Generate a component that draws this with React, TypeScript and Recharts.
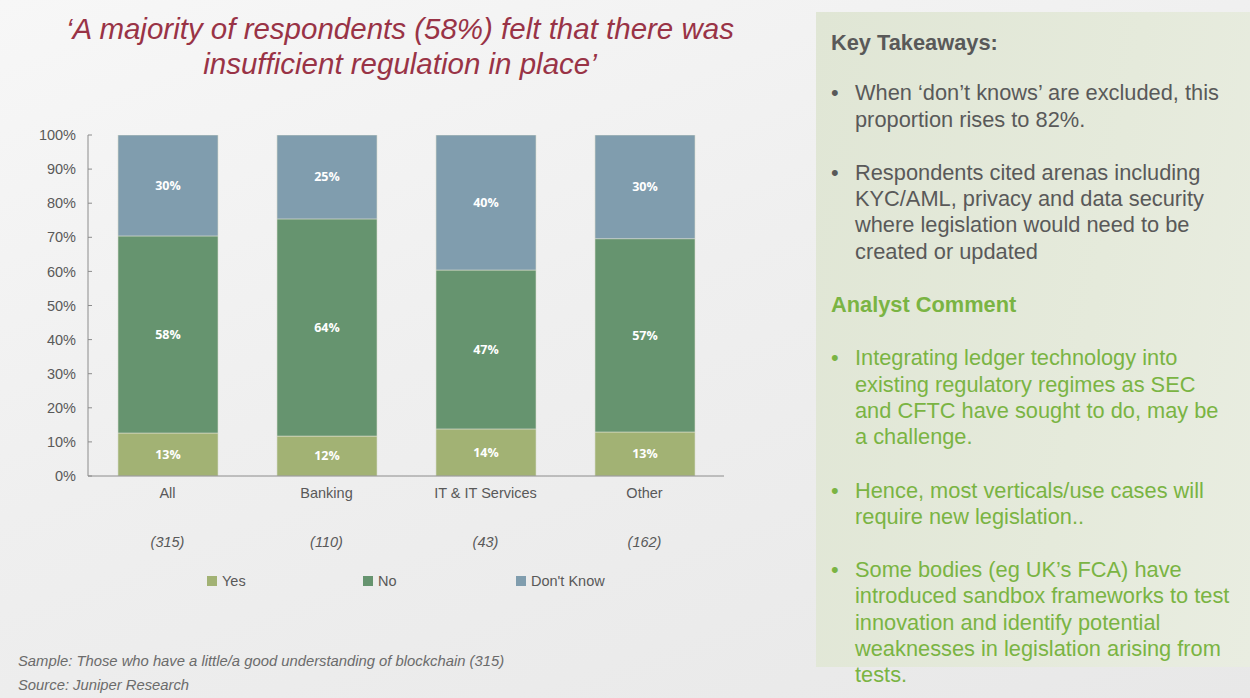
import React from 'react';
import { BarChart, Bar, XAxis, YAxis, Legend, LabelList } from 'recharts';

const categories = ['All', 'Banking', 'IT & IT Services', 'Other'];
const sampleSizes = ['(315)', '(110)', '(43)', '(162)'];
const yesValues = [12.6, 11.7, 13.8, 12.9];
const noValues = [57.8, 63.7, 46.6, 56.7];
const dontKnowValues = [29.6, 24.6, 39.6, 30.4];
const yesLabels = ['13%', '12%', '14%', '13%'];
const noLabels = ['58%', '64%', '47%', '57%'];
const dontKnowLabels = ['30%', '25%', '40%', '30%'];
const yTicks = [0, 10, 20, 30, 40, 50, 60, 70, 80, 90, 100];

const seriesNames = ['Yes', 'No', "Don't Know"];
const seriesColors = ['#a2b274', '#66946f', '#809dae'];

const data = categories.map((c, i) => ({
  category: c,
  n: sampleSizes[i],
  yes: yesValues[i],
  no: noValues[i],
  dk: dontKnowValues[i],
  yesL: yesLabels[i],
  noL: noLabels[i],
  dkL: dontKnowLabels[i],
}));

const takeaways = [
  'When \u2018don\u2019t knows\u2019 are excluded, this proportion rises to 82%.',
  'Respondents cited arenas including KYC/AML, privacy and data security where legislation would need to be created or updated',
];
const comments = [
  'Integrating ledger technology into existing regulatory regimes as SEC and CFTC have sought to do, may be a challenge.',
  'Hence, most verticals/use cases will require new legislation..',
  'Some bodies (eg UK\u2019s FCA) have introduced sandbox frameworks to test innovation and identify potential weaknesses in legislation arising from tests.',
];

const AX = '#595959';
const FONT = "'Liberation Sans', Arial, sans-serif";

const LegendContent = (props: any) => {
  const payload = [...(props.payload || [])].sort(
    (a: any, b: any) => seriesNames.indexOf(a.value) - seriesNames.indexOf(b.value)
  );
  const widths = [156, 153, 120];
  return (
    <div style={{ display: 'flex', paddingLeft: 207, height: 30, alignItems: 'center', fontFamily: FONT, fontSize: 14.5, color: AX }}>
      {payload.map((p: any, i: number) => (
        <div key={i} style={{ width: widths[i], display: 'flex', alignItems: 'center' }}>
          <span style={{ display: 'inline-block', width: 10, height: 10, background: p.color, marginRight: 5 }} />
          <span>{p.value}</span>
        </div>
      ))}
    </div>
  );
};

const Bullet = ({ text, color }: { text: string; color: string }) => (
  <div style={{ display: 'flex', color, marginBottom: 27 }}>
    <span style={{ width: 24, flex: '0 0 24px' }}>{'\u2022'}</span>
    <span style={{ flex: 1 }}>{text}</span>
  </div>
);

export default function App() {
  return (
    <div
      style={{
        position: 'absolute',
        left: 0,
        top: 0,
        width: 1250,
        height: 698,
        overflow: 'hidden',
        background: 'linear-gradient(160deg, #f7f7f7 0%, #efefef 45%, #e8e8e8 100%)',
        fontFamily: FONT,
      }}
    >
      <div
        style={{
          position: 'absolute',
          left: 20,
          width: 760,
          top: 11,
          textAlign: 'center',
          fontFamily: FONT,
          fontStyle: 'italic',
          fontSize: 29.5,
          lineHeight: '35px',
          color: '#993346',
        }}
      >
        {'\u2018A majority of respondents (58%) felt that there was'}
        <br />
        {'insufficient regulation in place\u2019'}
      </div>

      <div style={{ position: 'absolute', left: 0, top: 0 }}>
        <BarChart
          width={760}
          height={596}
          data={data}
          margin={{ top: 135, right: 36, bottom: 0, left: 0 }}
          barSize={100}
        >
          <YAxis
            type="number"
            domain={[0, 100]}
            ticks={yTicks}
            width={88}
            tickFormatter={(v: number) => `${v}%`}
            axisLine={{ stroke: '#8c8c8c' }}
            tickLine={{ stroke: '#8c8c8c' }}
            tickSize={-4}
            tickMargin={16}
            tick={{ fill: AX, fontSize: 14.5, fontFamily: FONT }}
            allowDataOverflow
          />
          <XAxis
            xAxisId={0}
            dataKey="category"
            height={40}
            axisLine={{ stroke: '#8c8c8c' }}
            tickLine={false}
            tickSize={0}
            tickMargin={12}
            tick={{ fill: AX, fontSize: 14.5, fontFamily: FONT }}
          />
          <XAxis
            xAxisId={1}
            dataKey="n"
            height={50}
            axisLine={false}
            tickLine={false}
            tickSize={0}
            tickMargin={21}
            tick={{ fill: AX, fontSize: 14.5, fontFamily: FONT, fontStyle: 'italic' }}
          />
          <Legend verticalAlign="bottom" content={<LegendContent />} wrapperStyle={{ left: 0, width: 760 }} />
          <Bar dataKey="yes" name={seriesNames[0]} stackId="a" fill={seriesColors[0]} stroke="#d8dccf" strokeWidth={0.6} isAnimationActive={false}>
            <LabelList dataKey="yesL" position="center" fill="#ffffff" fontSize={12.5} fontWeight="bold" fontFamily="'Open Sans', sans-serif" />
          </Bar>
          <Bar dataKey="no" name={seriesNames[1]} stackId="a" fill={seriesColors[1]} stroke="#d8dccf" strokeWidth={0.6} isAnimationActive={false}>
            <LabelList dataKey="noL" position="center" fill="#ffffff" fontSize={12.5} fontWeight="bold" fontFamily="'Open Sans', sans-serif" />
          </Bar>
          <Bar dataKey="dk" name={seriesNames[2]} stackId="a" fill={seriesColors[2]} stroke="#d8dccf" strokeWidth={0.6} isAnimationActive={false}>
            <LabelList dataKey="dkL" position="center" fill="#ffffff" fontSize={12.5} fontWeight="bold" fontFamily="'Open Sans', sans-serif" />
          </Bar>
        </BarChart>
      </div>

      <div
        style={{
          position: 'absolute',
          left: 18,
          top: 649,
          fontStyle: 'italic',
          fontSize: 14.8,
          lineHeight: '24px',
          color: '#6b6b6b',
        }}
      >
        <div>Sample: Those who have a little/a good understanding of blockchain (315)</div>
        <div>Source: Juniper Research</div>
      </div>

      <div
        style={{
          position: 'absolute',
          left: 816,
          top: 12,
          width: 434,
          height: 655,
          background: 'linear-gradient(100deg, #e0e6d5 0%, #e5eadb 60%, #e9ede1 100%)',
        }}
      />
      <div
        style={{
          position: 'absolute',
          left: 831,
          top: 30,
          width: 402,
          fontSize: 21.8,
          lineHeight: '26.3px',
        }}
      >
        <div style={{ fontWeight: 'bold', color: AX, marginBottom: 24 }}>Key Takeaways:</div>
        {takeaways.map((t, i) => (
          <Bullet key={i} text={t} color={AX} />
        ))}
        <div style={{ fontWeight: 'bold', color: '#7ab443', marginBottom: 27 }}>Analyst Comment</div>
        {comments.map((t, i) => (
          <Bullet key={i} text={t} color="#7ab443" />
        ))}
      </div>
    </div>
  );
}
